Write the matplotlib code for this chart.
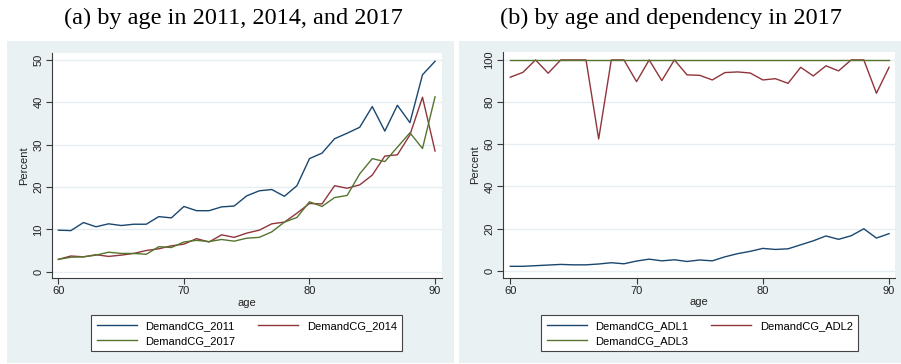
import numpy as np
import matplotlib.pyplot as plt
from matplotlib.patches import Rectangle

# Share of elderly with demand for care giving, by age
age = list(range(60, 91))

demand_2011 = [9.8, 9.7, 11.6, 10.6, 11.3, 10.9, 11.2, 11.2, 13.0, 12.7,
               15.4, 14.4, 14.4, 15.3, 15.5, 17.9, 19.1, 19.4, 17.8, 20.3,
               26.7, 28.0, 31.4, 32.7, 34.1, 39.0, 33.2, 39.3, 35.2, 46.5, 49.7]
demand_2014 = [2.9, 3.7, 3.5, 4.0, 3.6, 3.9, 4.3, 5.0, 5.4, 6.1,
               6.5, 7.8, 7.0, 8.7, 8.1, 9.1, 9.8, 11.3, 11.7, 13.8,
               16.1, 16.0, 20.3, 19.7, 20.5, 22.8, 27.3, 27.6, 32.3, 41.2, 28.5]
demand_2017 = [2.9, 3.4, 3.5, 3.9, 4.6, 4.3, 4.3, 4.1, 5.9, 5.7,
               7.0, 7.4, 7.1, 7.6, 7.2, 7.9, 8.1, 9.4, 11.7, 12.8,
               16.5, 15.4, 17.5, 18.0, 23.1, 26.7, 26.0, 29.4, 32.8, 29.1, 41.3]

demand_adl1 = [2.1, 2.1, 2.4, 2.7, 3.0, 2.8, 2.8, 3.2, 3.8, 3.3,
               4.6, 5.5, 4.7, 5.2, 4.4, 5.1, 4.7, 6.6, 8.1, 9.2,
               10.6, 10.1, 10.4, 12.3, 14.2, 16.5, 14.9, 16.6, 19.9, 15.5, 17.6]
demand_adl2 = [91.8, 94.1, 100, 93.7, 100, 100, 100, 62.5, 100, 100,
               89.7, 100, 90.2, 100, 92.9, 92.7, 90.5, 94.0, 94.3, 93.8,
               90.5, 91.1, 88.9, 96.5, 92.4, 97.2, 94.8, 100, 100, 84.2, 96.5]
demand_adl3 = [100] * 31

navy = '#1a476f'
maroon = '#90353b'
green = '#55752f'
region_bg = '#e9f1f3'
grid_c = '#e6eef1'
axis_c = '#3a3a3a'

plt.rcParams['font.family'] = ['Liberation Sans', 'DejaVu Sans']

W, H = 901, 364
fig = plt.figure(figsize=(W / 100, H / 100), dpi=100)
fig.patch.set_facecolor('white')

# light graph regions behind each panel
for x0, x1 in [(7, 454), (459, 901)]:
    fig.patches.append(Rectangle((x0 / W, 1 - 363 / H), (x1 - x0) / W, (363 - 41) / H,
                                 transform=fig.transFigure, facecolor=region_bg,
                                 edgecolor='none', zorder=-5))


def px_axes(left, top, right, bottom):
    return fig.add_axes([left / W, 1 - bottom / H, (right - left) / W, (bottom - top) / H])


def style(ax, yticks, xlim, ylim):
    ax.set_facecolor('white')
    for s in ['top', 'right']:
        ax.spines[s].set_visible(False)
    for s in ['left', 'bottom']:
        ax.spines[s].set_color(axis_c)
        ax.spines[s].set_linewidth(0.8)
    ax.set_xlim(*xlim)
    ax.set_ylim(*ylim)
    ax.set_xticks([60, 70, 80, 90])
    ax.set_yticks(yticks)
    ax.set_yticklabels([str(t) for t in yticks], rotation=90, va='center')
    ax.tick_params(axis='both', direction='out', length=4, width=0.8, color=axis_c,
                   labelsize=8, labelcolor='#222222', pad=2)
    ax.grid(axis='y', color=grid_c, linewidth=1.0)
    ax.set_axisbelow(True)
    ax.set_xlabel('age', fontsize=8, color='#222222', labelpad=1)
    ax.set_ylabel('Percent', fontsize=8, color='#222222', labelpad=3)


ax1 = px_axes(51.7, 53, 441.7, 278)
l1, = ax1.plot(age, demand_2011, color=navy, lw=1.0)
l2, = ax1.plot(age, demand_2014, color=maroon, lw=1.0)
l3, = ax1.plot(age, demand_2017, color=green, lw=1.0)
style(ax1, [0, 10, 20, 30, 40, 50], (59.47, 90.53), (-1.5, 51.65))

ax2 = px_axes(502.7, 51.7, 895, 277.7)
r1, = ax2.plot(age, demand_adl1, color=navy, lw=1.0)
r2, = ax2.plot(age, demand_adl2, color=maroon, lw=1.0)
r3, = ax2.plot(age, demand_adl3, color=green, lw=1.0)
style(ax2, [0, 20, 40, 60, 80, 100], (59.4, 90.47), (-3.3, 103.9))

fig.text(233 / W, 1 - 18 / H, '(a) by age in 2011, 2014, and 2017', ha='center', va='center',
         fontsize=17.5, family='Liberation Serif')
fig.text(671 / W, 1 - 18 / H, '(b) by age and dependency in 2017', ha='center', va='center',
         fontsize=17.5, family='Liberation Serif')


def add_legend(handles, labels, cx):
    # rows read left to right: first, second / third
    order = [0, 2, 1]
    leg = fig.legend([handles[i] for i in order], [labels[i] for i in order], ncol=2,
                     loc='center', bbox_to_anchor=(cx / W, 1 - 333.2 / H), fontsize=8,
                     frameon=True, fancybox=False, handlelength=3.6, handletextpad=0.8,
                     columnspacing=2.0, borderpad=0.5, labelspacing=0.45)
    fr = leg.get_frame()
    fr.set_edgecolor('#444444')
    fr.set_linewidth(0.8)
    fr.set_facecolor('white')
    fr.set_alpha(1)
    return leg


add_legend([l1, l2, l3], ['DemandCG_2011', 'DemandCG_2014', 'DemandCG_2017'], (89.3 + 404) / 2)
add_legend([r1, r2, r3], ['DemandCG_ADL1', 'DemandCG_ADL2', 'DemandCG_ADL3'], (538.3 + 861) / 2)

fig.savefig('out.png', dpi=100)
